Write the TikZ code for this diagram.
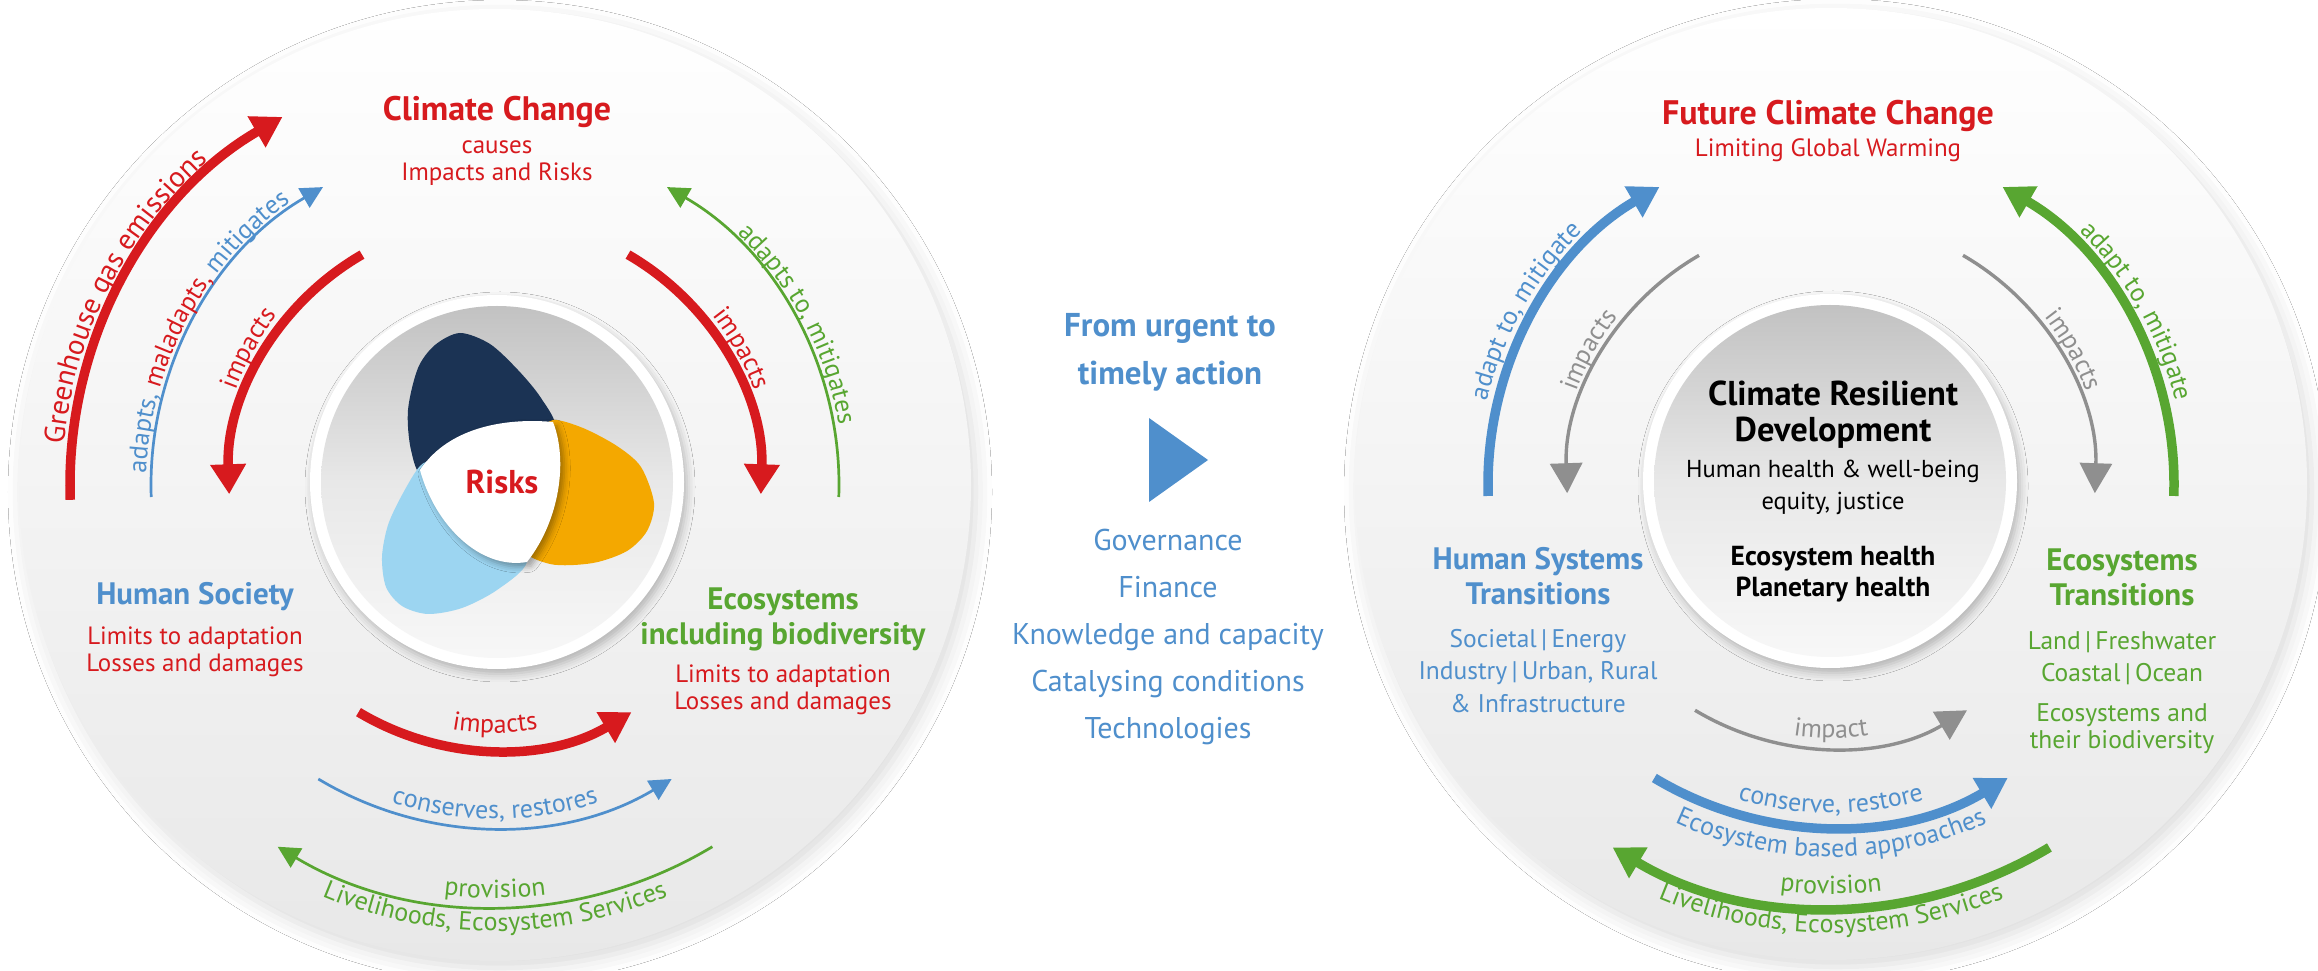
\documentclass[tikz,border=0pt]{standalone}
\usepackage{fontspec}
\setmainfont{PT Sans}
\usepackage{xcolor}
\usepackage{tikz}
\usetikzlibrary{arrows.meta, decorations.text, shadows.blur}

\definecolor{ipccred}{HTML}{D71A1E}
\definecolor{ipccblue}{HTML}{4F8FCC}
\definecolor{ipccgreen}{HTML}{58A631}
\definecolor{arrowgray}{HTML}{8F8F8F}
\definecolor{risknavy}{HTML}{1B3354}
\definecolor{riskorange}{HTML}{F4A800}
\definecolor{risksky}{HTML}{9CD5F1}

\newcommand{\setfs}[2]{\fontsize{#1}{#2}\selectfont}
\newcommand{\arcfont}{\setfs{26}{26}}

\begin{document}
\begin{tikzpicture}[x=1pt, y=1pt,
    every node/.style={inner sep=0pt, align=center},
    disc/.style={top color=white, bottom color=black!9, blur shadow={shadow xshift=5pt, shadow yshift=-7pt, shadow blur radius=16pt, shadow opacity=14}},
    rim/.style={fill=white, blur shadow={shadow xshift=3pt, shadow yshift=-5pt, shadow blur radius=8pt, shadow opacity=25}},
    bowl/.style={top color=black!24, bottom color=black!3, middle color=black!9},
    bigarrow/.style={line width=9.5pt, -{Triangle[length=30pt, width=34pt]}},
    thinarrow/.style={line width=2.7pt, -{Triangle[length=22pt, width=22pt]}},
    grayarrow/.style={arrowgray, line width=3.4pt, -{Triangle[length=30pt, width=32pt]}},
    arclabel/.style={decorate, decoration={text along path, text align=center, text={#1}}},
    cctitle/.style={font={\bfseries\setfs{34}{34}}, text=ipccred},
    ccsub/.style={font={\setfs{25}{27}}, text=ipccred},
    sidehead/.style={font={\bfseries\setfs{31}{35}}},
    sidetext/.style={font={\setfs{25.5}{32.5}}},
    midhead/.style={font={\bfseries\setfs{33}{48}}, text=ipccblue},
    midtext/.style={font={\setfs{30}{47}}, text=ipccblue},
    coretitle/.style={font={\bfseries\setfs{34.5}{36}}},
    coretext/.style={font={\setfs{24.5}{32}}},
    corebold/.style={font={\bfseries\setfs{27.5}{31}}},
    risklbl/.style={font={\bfseries\setfs{33}{33}}, text=ipccred}]

    \fill[white] (0,0) rectangle (2318,970);
    \useasboundingbox (0,0) rectangle (2318,970);

    \coordinate (Lc) at (495,485);
    \coordinate (Rc) at (1831,486);
    \coordinate (Li) at (497,488);
    \coordinate (Ri) at (1830,489);

    \path[disc] (Lc) circle[radius=476];
    \path[disc] (Rc) circle[radius=476];
    \path[rim] (Li) circle[radius=187];
    \path[rim] (Ri) circle[radius=187];
    \path[bowl] (Li) circle[radius=176];
    \path[bowl] (Ri) circle[radius=176];

    \fill[risknavy] plot[smooth cycle] coordinates {(460,637) (490,626) (518,600) (541,572) (556,540) (535,495) (480,470) (425,490) (411,520) (408,560) (418,602) (435,625)};
    \fill[riskorange] plot[smooth cycle] coordinates {(553,550) (583,542) (617,524) (641,503) (654,467) (647,439) (627,419) (593,407) (550,406) (520,425) (522,490) (540,535)};
    \fill[risksky] plot[smooth cycle] coordinates {(420,504) (402,475) (388,445) (382,413) (386,383) (402,364) (428,356) (462,362) (497,380) (527,408) (515,450) (470,492) (435,508)};
    \fill[white, blur shadow={shadow xshift=4pt, shadow yshift=-4pt, shadow blur radius=6pt, shadow opacity=35}]
        (420,500) .. controls (450,545) and (510,552) .. (553,548) .. controls (568,510) and (560,450) .. (527,408) .. controls (480,400) and (435,445) .. (420,500) -- cycle;
    \node[risklbl] (risks) at (502,488) {Risks};

    \draw[bigarrow, ipccred] ([shift={(182:425)}]Lc) arc[start angle=182, end angle=120, radius=425];
    \draw[thinarrow, ipccblue] ([shift={(182:344)}]Lc) arc[start angle=182, end angle=120, radius=344];
    \draw[bigarrow, ipccred] ([shift={(120:266)}]Lc) arc[start angle=120, end angle=182, radius=266];
    \draw[bigarrow, ipccred] ([shift={(60:266)}]Lc) arc[start angle=60, end angle=-2, radius=266];
    \draw[thinarrow, ipccgreen] ([shift={(-2:344)}]Lc) arc[start angle=-2, end angle=60, radius=344];
    \draw[bigarrow, ipccred] ([shift={(-121:265)}]Lc) arc[start angle=-121, end angle=-59, radius=265];
    \draw[thinarrow, ipccblue] ([shift={(-121:343)}]Lc) arc[start angle=-121, end angle=-59, radius=343];
    \draw[thinarrow, ipccgreen] ([shift={(-59:422)}]Lc) arc[start angle=-59, end angle=-121, radius=422];

    \path[arclabel={|\setfs{29}{29}\color{ipccred}|Greenhouse gas emissions}] ([shift={(190:433)}]Lc) arc[start angle=190, end angle=116, radius=433];
    \path[arclabel={|\arcfont\color{ipccblue}|adapts, |\arcfont\color{ipccred}|maladapts, |\arcfont\color{ipccblue}|mitigates}] ([shift={(189:349)}]Lc) arc[start angle=189, end angle=115, radius=349];
    \path[arclabel={|\arcfont\color{ipccred}|impacts}] ([shift={(181:276)}]Lc) arc[start angle=181, end angle=121, radius=276];
    \path[arclabel={|\arcfont\color{ipccred}|impacts}] ([shift={(59:276)}]Lc) arc[start angle=59, end angle=-1, radius=276];
    \path[arclabel={|\arcfont\color{ipccgreen}|adapts to, mitigates}] ([shift={(65:349)}]Lc) arc[start angle=65, end angle=-9, radius=349];
    \path[arclabel={|\arcfont\color{ipccred}|impacts}] ([shift={(-120:248)}]Lc) arc[start angle=-120, end angle=-60, radius=248];
    \path[arclabel={|\arcfont\color{ipccblue}|conserves, restores}] ([shift={(-125:334)}]Lc) arc[start angle=-125, end angle=-55, radius=334];
    \path[arclabel={|\arcfont\color{ipccgreen}|provision}] ([shift={(-120:413)}]Lc) arc[start angle=-120, end angle=-60, radius=413];
    \path[arclabel={|\arcfont\color{ipccgreen}|Livelihoods, Ecosystem Services}] ([shift={(-130:446)}]Lc) arc[start angle=-130, end angle=-50, radius=446];

    \draw[bigarrow, ipccblue] ([shift={(182:343)}]Rc) arc[start angle=182, end angle=120, radius=343];
    \draw[grayarrow] ([shift={(120:264)}]Rc) arc[start angle=120, end angle=182, radius=264];
    \draw[grayarrow] ([shift={(60:264)}]Rc) arc[start angle=60, end angle=-2, radius=264];
    \draw[bigarrow, ipccgreen] ([shift={(-2:343)}]Rc) arc[start angle=-2, end angle=60, radius=343];
    \draw[grayarrow] ([shift={(-121:264)}]Rc) arc[start angle=-121, end angle=-59, radius=264];
    \draw[bigarrow, ipccblue] ([shift={(-121:343)}]Rc) arc[start angle=-121, end angle=-59, radius=343];
    \draw[bigarrow, ipccgreen] ([shift={(-59:424)}]Rc) arc[start angle=-59, end angle=-121, radius=424];

    \path[arclabel={|\arcfont\color{ipccblue}|adapt to, mitigate}] ([shift={(185:354)}]Rc) arc[start angle=185, end angle=116, radius=354];
    \path[arclabel={|\arcfont\color{arrowgray}|impacts}] ([shift={(181:271)}]Rc) arc[start angle=181, end angle=121, radius=271];
    \path[arclabel={|\arcfont\color{arrowgray}|impacts}] ([shift={(59:271)}]Rc) arc[start angle=59, end angle=-1, radius=271];
    \path[arclabel={|\arcfont\color{ipccgreen}|adapt to, mitigate}] ([shift={(64:354)}]Rc) arc[start angle=64, end angle=-5, radius=354];
    \path[arclabel={|\arcfont\color{arrowgray}|impact}] ([shift={(-120:254)}]Rc) arc[start angle=-120, end angle=-60, radius=254];
    \path[arclabel={|\arcfont\color{ipccblue}|conserve, restore}] ([shift={(-125:329)}]Rc) arc[start angle=-125, end angle=-55, radius=329];
    \path[arclabel={|\arcfont\color{ipccblue}|Ecosystem based approaches}] ([shift={(-130:373)}]Rc) arc[start angle=-130, end angle=-50, radius=373];
    \path[arclabel={|\arcfont\color{ipccgreen}|provision}] ([shift={(-120:410)}]Rc) arc[start angle=-120, end angle=-60, radius=410];
    \path[arclabel={|\arcfont\color{ipccgreen}|Livelihoods, Ecosystem Services}] ([shift={(-130:449)}]Rc) arc[start angle=-130, end angle=-50, radius=449];

    \node[cctitle, anchor=base] (lhead) at (497,849) {Climate Change};
    \node[ccsub, anchor=north] (lsub) at (497,829) {causes\\Impacts and Risks};
    \node[sidehead, text=ipccblue, anchor=base] (lhum) at (195,365) {Human Society};
    \node[ccsub, anchor=north] (lhumsub) at (195,343) {Limits to adaptation\\Losses and damages};
    \node[sidehead, text=ipccgreen, anchor=north] (leco) at (783,382) {Ecosystems\\including biodiversity};
    \node[ccsub, anchor=north] (lecosub) at (783,305) {Limits to adaptation\\Losses and damages};

    \node[midhead, anchor=north] (mhead) at (1170,657) {From urgent to\\timely action};
    \fill[ipccblue] (1149,552) -- (1149,468) -- (1208,510) -- cycle;
    \node[midtext, anchor=north] (mlist) at (1168,441) {Governance\\Finance\\Knowledge and capacity\\Catalysing conditions\\Technologies};

    \node[cctitle, anchor=base] (rhead) at (1828,845) {Future Climate Change};
    \node[ccsub, anchor=base] (rsub) at (1828,813) {Limiting Global Warming};
    \node[coretitle, anchor=north] (rcore) at (1833,589) {Climate Resilient\\Development};
    \node[coretext, anchor=north] (rcoresub) at (1833,510) {Human health \& well-being\\equity, justice};
    \node[corebold, anchor=north] (rhealth) at (1833,424) {Ecosystem health\\Planetary health};
    \node[sidehead, text=ipccblue, anchor=north] (rhum) at (1538,423) {Human Systems\\Transitions};
    \node[sidetext, text=ipccblue, anchor=north] (rhumsub) at (1538,341) {Societal\,|\,Energy\\Industry\,|\,Urban, Rural\\\& Infrastructure};
    \node[sidehead, text=ipccgreen, anchor=north] (reco) at (2122,421) {Ecosystems\\Transitions};
    \node[sidetext, text=ipccgreen, anchor=north] (recosub) at (2122,339) {Land\,|\,Freshwater\\Coastal\,|\,Ocean};
    \node[sidetext, text=ipccgreen, anchor=north, font={\setfs{25.5}{27}}] (recobio) at (2122,267) {Ecosystems and\\their biodiversity};
\end{tikzpicture}
\end{document}
